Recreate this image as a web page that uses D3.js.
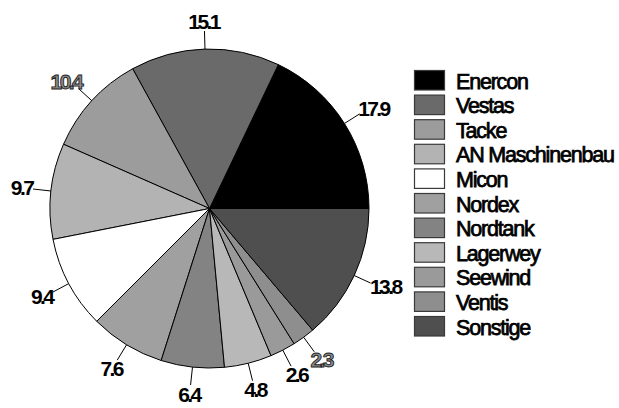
<!DOCTYPE html>
<html>
<head>
<meta charset="utf-8">
<script src="https://cdn.jsdelivr.net/npm/d3@7"></script>
<style>
  html, body { margin: 0; padding: 0; background: #fff; }
  svg { display: block; }
  text { font-family: "Liberation Sans", Arial, sans-serif; }
</style>
</head>
<body>
<svg id="chart" width="619" height="408"></svg>
<script>
// Market shares of wind turbine manufacturers (percent)
const manufacturers = ["Enercon", "Vestas", "Tacke", "AN Maschinenbau", "Micon",
  "Nordex", "Nordtank", "Lagerwey", "Seewind", "Ventis", "Sonstige"];
const shares = [17.9, 15.1, 10.4, 9.7, 9.4, 7.6, 6.4, 4.8, 2.6, 2.3, 13.8];
const shareLabels = ["17.9", "15.1", "10.4", "9.7", "9.4", "7.6", "6.4", "4.8", "2.6", "2.3", "13.8"];

const palette = ["#000000", "#6a6a6a", "#9c9c9c", "#b3b3b3", "#ffffff",
  "#a0a0a0", "#838383", "#b8b8b8", "#9a9a9a", "#8e8e8e", "#4f4f4f"];
// labels drawn as grey outlined glyphs
const outlinedLabels = new Set(["10.4", "2.3"]);

const svg = d3.select("#chart");
const cx = 209.5, cy = 208.5, radius = 159.5;

const color = d3.scaleOrdinal().domain(manufacturers).range(palette);

const rows = manufacturers.map((name, i) => ({ name, value: shares[i], label: shareLabels[i] }));

// first slice starts at 3 o'clock, slices run counter-clockwise
const pie = d3.pie().value(d => d.value).sort(null)
  .startAngle(Math.PI / 2).endAngle(Math.PI / 2 - 2 * Math.PI);
const arcs = pie(rows);
const arc = d3.arc().innerRadius(0).outerRadius(radius);

const g = svg.append("g").attr("transform", `translate(${cx},${cy})`);

g.selectAll("path.slice").data(arcs).join("path")
  .attr("class", "slice")
  .attr("d", arc)
  .attr("fill", d => color(d.data.name))
  .attr("stroke", "#000")
  .attr("stroke-width", 1)
  .attr("stroke-linejoin", "round");

// leader lines and value labels
const lineIn = radius, lineOut = radius + 18;
arcs.forEach(d => {
  const m = (d.startAngle + d.endAngle) / 2;
  const ux = Math.sin(m), uy = -Math.cos(m);
  g.append("line")
    .attr("x1", ux * lineIn).attr("y1", uy * lineIn)
    .attr("x2", ux * lineOut).attr("y2", uy * lineOut)
    .attr("stroke", "#000").attr("stroke-width", 1);

  const outlined = outlinedLabels.has(d.data.label);
  const t = g.append("text")
    .text(d.data.label)
    .attr("font-size", 21)
    .attr("font-weight", "bold")
    .attr("letter-spacing", "-2.6px")
    .attr("fill", outlined ? "#8c8c8c" : "#000")
    .attr("stroke", outlined ? "#222" : "none")
    .attr("stroke-width", outlined ? 0.9 : 0);
  const bb = t.node().getBBox();
  const w = bb.width - 2, h = 15.5;
  const ex = ux * lineOut, ey = uy * lineOut;
  const bx = ex + ux * (w / 2 + 1), by = ey + uy * (h / 2 + 2);
  t.attr("x", bx - w / 2).attr("y", by + h / 2 - 0.5);
});

// legend
const legend = svg.append("g").attr("transform", "translate(414,70)");
const rowStep = 24.6;
const items = legend.selectAll("g").data(manufacturers).join("g")
  .attr("transform", (d, i) => `translate(0,${i * rowStep})`);
items.append("rect")
  .attr("x", 0.5).attr("y", 0.5).attr("width", 30).attr("height", 19.5)
  .attr("fill", d => color(d))
  .attr("stroke", "#3a3a3a").attr("stroke-width", 1.2);
items.append("text")
  .attr("x", 42).attr("y", 18.5)
  .attr("font-size", 21.5)
  .attr("letter-spacing", "-1.2px")
  .attr("fill", "#000").attr("stroke", "#000").attr("stroke-width", 0.75)
  .text(d => d);
</script>
</body>
</html>
